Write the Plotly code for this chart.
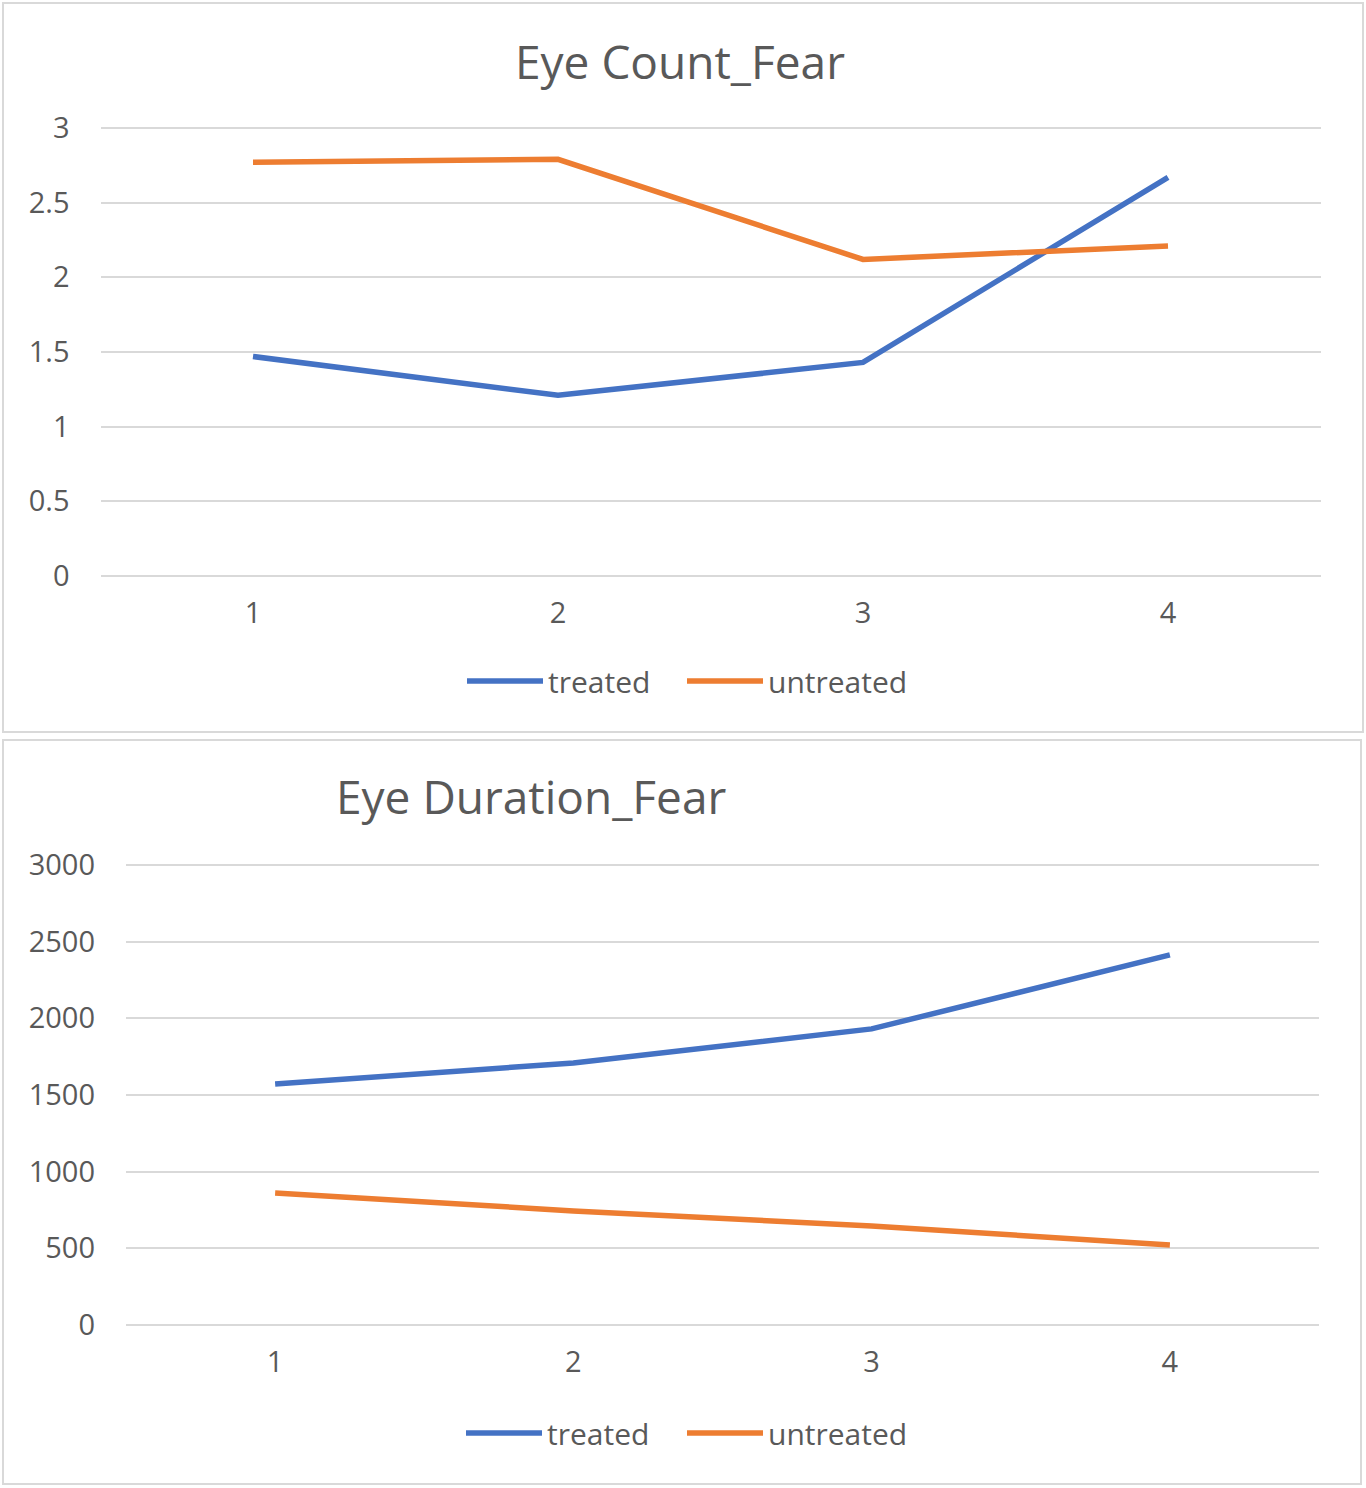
import plotly.graph_objects as go

# ---- data ----
sessions = [1, 2, 3, 4]
count_treated = [1.47, 1.21, 1.43, 2.67]
count_untreated = [2.77, 2.79, 2.12, 2.21]
duration_treated = [1572, 1709, 1931, 2414]
duration_untreated = [861, 744, 646, 522]
count_ticks = [0, 0.5, 1, 1.5, 2, 2.5, 3]
duration_ticks = [0, 500, 1000, 1500, 2000, 2500, 3000]

W, H = 1366, 1488
BLUE = "#4472C4"
ORANGE = "#ED7D31"
GRID = "#D9D9D9"
TXT = "#595959"
FONT = "Open Sans"

def px_x(p):
    return p / W

def px_y(p):
    return 1 - p / H

fig = go.Figure()

fig.add_trace(go.Scatter(x=sessions, y=count_treated, name="treated", mode="lines",
                         line=dict(color=BLUE, width=5.5), xaxis="x", yaxis="y", legend="legend"))
fig.add_trace(go.Scatter(x=sessions, y=count_untreated, name="untreated", mode="lines",
                         line=dict(color=ORANGE, width=5.5), xaxis="x", yaxis="y", legend="legend3"))
fig.add_trace(go.Scatter(x=sessions, y=duration_treated, name="treated", mode="lines",
                         line=dict(color=BLUE, width=5.5), xaxis="x2", yaxis="y2", legend="legend2"))
fig.add_trace(go.Scatter(x=sessions, y=duration_untreated, name="untreated", mode="lines",
                         line=dict(color=ORANGE, width=5.5), xaxis="x2", yaxis="y2", legend="legend4"))

tickfont = dict(family=FONT, size=29, color=TXT)

xcommon = dict(range=[0.5, 4.5], tickvals=sessions, ticktext=[str(s) for s in sessions],
               showgrid=False, zeroline=False, showline=False, ticks="", automargin=False,
               tickfont=tickfont, ticklabelstandoff=14, fixedrange=True)
ycommon = dict(showgrid=True, gridcolor=GRID, gridwidth=2, zeroline=False, showline=False,
               ticks="", automargin=False, tickfont=tickfont, ticklabelstandoff=30, fixedrange=True)

legend_common = dict(orientation="h", xanchor="left", yanchor="middle",
                     font=dict(family=FONT, size=30, color=TXT),
                     bgcolor="rgba(0,0,0,0)", itemwidth=76, tracegroupgap=0)

# small padding so the edge gridlines (0 and max) are not clipped
pad_c = 3 / 149.3
pad_d = 3 / 0.1533

fig.update_layout(
    width=W, height=H,
    margin=dict(l=0, r=0, t=0, b=0, autoexpand=False),
    paper_bgcolor="white", plot_bgcolor="white",
    xaxis=dict(domain=[px_x(100.5), px_x(1320.5)], anchor="y", **xcommon),
    yaxis=dict(domain=[px_y(579), px_y(125)], anchor="x", range=[-pad_c, 3 + pad_c],
               tickvals=count_ticks, ticktext=[f"{v:g}" for v in count_ticks], **ycommon),
    xaxis2=dict(domain=[px_x(126), px_x(1319)], anchor="y2", **xcommon),
    yaxis2=dict(domain=[px_y(1328), px_y(862)], anchor="x2", range=[-pad_d, 3000 + pad_d],
                tickvals=duration_ticks, ticktext=[str(v) for v in duration_ticks], **ycommon),
    legend=dict(x=px_x(462), y=px_y(681), **legend_common),
    legend3=dict(x=px_x(682), y=px_y(681), **legend_common),
    legend2=dict(x=px_x(461), y=px_y(1433), **legend_common),
    legend4=dict(x=px_x(682), y=px_y(1433), **legend_common),
    showlegend=True,
    annotations=[
        dict(text="Eye Count_Fear", x=px_x(680), y=px_y(61), xref="paper", yref="paper",
             xanchor="center", yanchor="middle", showarrow=False,
             font=dict(family=FONT, size=46, color=TXT)),
        dict(text="Eye Duration_Fear", x=px_x(531), y=px_y(796), xref="paper", yref="paper",
             xanchor="center", yanchor="middle", showarrow=False,
             font=dict(family=FONT, size=46, color=TXT)),
    ],
    shapes=[
        dict(type="rect", xref="paper", yref="paper", x0=px_x(3), x1=px_x(1363),
             y0=px_y(732), y1=px_y(3), line=dict(color=GRID, width=2)),
        dict(type="rect", xref="paper", yref="paper", x0=px_x(3), x1=px_x(1361),
             y0=px_y(1484), y1=px_y(740), line=dict(color=GRID, width=2)),
    ],
)

fig.write_html("out.html", config={"displayModeBar": False},
               post_script="document.body.style.margin='0';")
